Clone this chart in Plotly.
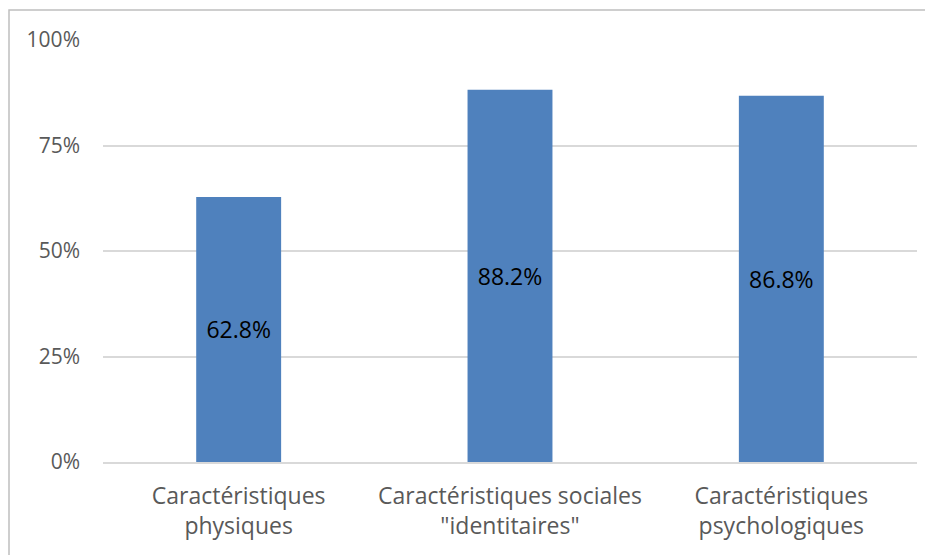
import plotly.graph_objects as go

categories = ["Caractéristiques<br>physiques",
              "Caractéristiques sociales<br>\"identitaires\"",
              "Caractéristiques<br>psychologiques"]
values = [0.628, 0.882, 0.868]
tick_vals = [0, 0.25, 0.5, 0.75, 1.0]
tick_text = ["0%", "25%", "50%", "75%", "100%"]

bar_color = "#4F81BD"
grid_color = "#D9D9D9"
font_family = "Open Sans, sans-serif"

fig = go.Figure()
fig.add_trace(go.Bar(
    x=categories, y=values,
    marker=dict(color=bar_color, line=dict(width=0)),
    width=0.313,
    texttemplate="%{y:.1%}", textposition="inside", insidetextanchor="middle",
    textfont=dict(family=font_family, size=23, color="black"),
    hoverinfo="skip",
))

# page body has an 8px margin, so the figure sits 8px right/down
fig.update_layout(
    width=933, height=555,
    margin=dict(l=95, r=24, t=32, b=101),
    paper_bgcolor="white", plot_bgcolor="white",
    showlegend=False,
    font=dict(family=font_family, size=18, color="#595959"),
    uniformtext=dict(mode="show", minsize=10),
    shapes=[dict(type="rect", xref="paper", yref="paper",
                 x0=-94 / 814, x1=1.2, y0=-0.4, y1=1 + 30 / 422,
                 line=dict(color="#BFBFBF", width=1.5), layer="below")],
)
fig.update_yaxes(range=[0, 1.0], tickvals=tick_vals, ticktext=tick_text,
                 showgrid=True, gridcolor=grid_color, gridwidth=1.5,
                 zeroline=False, showline=False, ticks="",
                 ticklabelstandoff=22, tickfont=dict(size=21))
fig.update_xaxes(showline=True, linecolor=grid_color, linewidth=1.5,
                 ticks="", showgrid=False, tickfont=dict(size=23),
                 ticklabelstandoff=13)

fig.write_html("out.html")
